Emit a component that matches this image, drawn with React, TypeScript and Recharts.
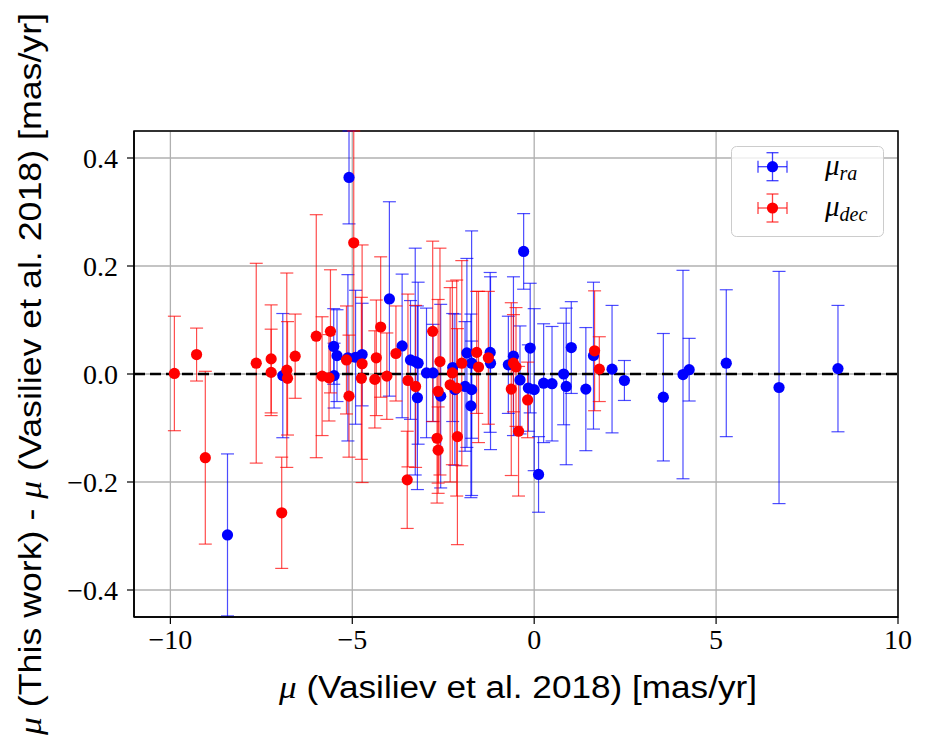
import React from "react";
import {
  ScatterChart,
  Scatter,
  XAxis,
  YAxis,
  CartesianGrid,
  ErrorBar,
  ReferenceLine,
  ReferenceArea,
  Label,
} from "recharts";

// Proper motion of each cluster in Vasiliev et al. 2018 (x) and the
// difference with this work (y), with the y uncertainty — RA component.
const raX = [
  -8.43, -6.91, -5.51, -5.42, -5.09, -5.12, -4.91, -4.73, -5.5, -3.98,
  -3.63, -3.4, -3.27, -3.21, -3.19, -2.96, -2.78, -2.57, -2.24, -2.18,
  -1.85, -1.72, -1.9, -1.72, -1.74, -1.21, -1.2, -0.57, -0.71, -0.39,
  -0.29, -0.16, -0.11, 0.0, 0.12, 0.26, 0.49, 0.81, 0.88, 1.02,
  1.42, 1.63, 2.14, 2.48, 3.55, 4.09, 4.26, 5.28, 6.73, 8.35,
];
const raY = [
  -0.298, -0.003, 0.051, 0.034, 0.364, 0.03, 0.031, 0.036, -0.003, 0.139,
  0.052, 0.026, 0.023, -0.044, 0.02, 0.002, 0.002, -0.041, 0.012, -0.029,
  0.039, 0.02, -0.023, -0.029, -0.059, 0.04, 0.02, 0.033, 0.017, -0.011,
  0.227, -0.026, 0.048, -0.029, -0.186, -0.017, -0.018, 0.0, -0.023, 0.049,
  -0.028, 0.034, 0.009, -0.012, -0.043, -0.001, 0.008, 0.02, -0.025, 0.01,
];
const raErr = [
  0.15, 0.115, 0.07, 0.085, 0.086, 0.154, 0.124, 0.095, 0.06, 0.18,
  0.133, 0.11, 0.21, 0.17, 0.15, 0.12, 0.09, 0.17, 0.1, 0.14,
  0.175, 0.245, 0.12, 0.09, 0.17, 0.148, 0.16, 0.147, 0.09, 0.1,
  0.07, 0.08, 0.12, 0.15, 0.07, 0.11, 0.106, 0.094, 0.145, 0.085,
  0.114, 0.136, 0.118, 0.037, 0.118, 0.193, 0.058, 0.136, 0.215, 0.117,
];

// Same comparison for the Dec component.
const decX = [
  -9.89, -9.28, -9.04, -7.64, -7.23, -7.23, -6.94, -6.8, -6.78, -6.57,
  -5.99, -5.83, -5.6, -5.64, -5.16, -5.09, -4.96, -4.73, -4.75, -4.34,
  -4.38, -4.22, -4.05, -3.8, -3.49, -3.47, -3.26, -2.79, -2.59, -2.64,
  -2.67, -2.64, -2.31, -2.13, -2.11, -1.99, -2.25, -1.58, -1.53, -1.26,
  -0.63, -0.57, -0.5, -0.43, -0.18, 1.66, 1.79,
];
const decY = [
  0.001, 0.036, -0.155, 0.02, 0.028, 0.003, -0.257, 0.007, -0.008, 0.033,
  0.07, -0.004, 0.079, -0.007, 0.026, -0.041, 0.243, 0.019, -0.008, 0.03,
  -0.01, 0.087, -0.004, 0.038, -0.196, -0.012, -0.023, 0.079, 0.023, -0.032,
  -0.119, -0.141, -0.02, -0.026, -0.116, 0.02, 0.002, 0.04, 0.013, 0.03,
  -0.028, 0.02, 0.013, -0.106, -0.048, 0.043, 0.009,
];
const decErr = [
  0.106, 0.049, 0.16, 0.185, 0.1, 0.08, 0.103, 0.18, 0.105, 0.078,
  0.225, 0.11, 0.114, 0.08, 0.1, 0.113, 0.207, 0.22, 0.15, 0.107,
  0.09, 0.13, 0.08, 0.088, 0.09, 0.16, 0.15, 0.167, 0.21, 0.17,
  0.12, 0.08, 0.18, 0.2, 0.2, 0.19, 0.17, 0.113, 0.14, 0.123,
  0.16, 0.09, 0.11, 0.12, 0.07, 0.111, 0.06,
];

const xTicks = [-10, -5, 0, 5, 10];
const yTicks = [-0.4, -0.2, 0.0, 0.2, 0.4];

const raData = raX.map((x, i) => ({ x, y: raY[i], err: raErr[i] }));
const decData = decX.map((x, i) => ({ x, y: decY[i], err: decErr[i] }));

const BLUE = "#0000ff";
const RED = "#ff0000";
const SERIF = "'Liberation Serif', 'DejaVu Serif', serif";
const SANS = "'Liberation Sans', Arial, sans-serif";

const fmtMinus = (v: number, digits: number) => {
  const s = Math.abs(v).toFixed(digits);
  return v < 0 ? "\u2212" + s : s;
};

const dot = (color: string) => (props: any) => {
  const { cx, cy } = props;
  if (cx == null || cy == null) return <g />;
  return <circle cx={cx} cy={cy} r={5.6} fill={color} />;
};

const XTitle = () => (
  <text
    x={510}
    y={690}
    textAnchor="middle"
    fontFamily={SANS}
    fontSize={31}
    textLength={478}
    lengthAdjust="spacingAndGlyphs"
    fill="#000"
  >
    <tspan fontFamily={SERIF} fontStyle="italic">μ</tspan>
    {" (Vasiliev et al. 2018) [mas/yr]"}
  </text>
);

const YTitle = () => (
  <text
    x={33}
    y={366}
    transform="rotate(-90 33 366)"
    textAnchor="middle"
    fontFamily={SANS}
    fontSize={31}
    textLength={722}
    lengthAdjust="spacingAndGlyphs"
    fill="#000"
  >
    <tspan fontFamily={SERIF} fontStyle="italic">μ</tspan>
    {" (This work) - "}
    <tspan fontFamily={SERIF} fontStyle="italic">μ</tspan>
    {" (Vasiliev et al. 2018) [mas/yr]"}
  </text>
);

const LegendMarker = ({ cx, cy, color }: { cx: number; cy: number; color: string }) => (
  <g>
    <g stroke={color} strokeWidth={1.3} strokeOpacity={0.75}>
      <line x1={cx - 14.5} y1={cy} x2={cx + 14.5} y2={cy} />
      <line x1={cx} y1={cy - 14} x2={cx} y2={cy + 14} />
      <line x1={cx - 14.5} y1={cy - 6} x2={cx - 14.5} y2={cy + 6} />
      <line x1={cx + 14.5} y1={cy - 6} x2={cx + 14.5} y2={cy + 6} />
      <line x1={cx - 6} y1={cy - 14} x2={cx + 6} y2={cy - 14} />
      <line x1={cx - 6} y1={cy + 14} x2={cx + 6} y2={cy + 14} />
    </g>
    <circle cx={cx} cy={cy} r={5.6} fill={color} />
  </g>
);

const LegendBox = () => (
  <svg
    width={911}
    height={734}
    style={{ position: "absolute", left: 0, top: 0, pointerEvents: "none" }}
  >
    <rect
      x={723.5}
      y={138.5}
      width={152}
      height={90}
      rx={5}
      fill="#ffffff"
      fillOpacity={0.8}
      stroke="#cccccc"
      strokeWidth={1}
    />
    <LegendMarker cx={764.5} cy={158.7} color={BLUE} />
    <LegendMarker cx={764.5} cy={200} color={RED} />
    <text x={817} y={167} fontFamily={SERIF} fontStyle="italic" fontSize={29} fill="#000">
      μ<tspan fontSize={20} dy={5}>ra</tspan>
    </text>
    <text x={817} y={208} fontFamily={SERIF} fontStyle="italic" fontSize={29} fill="#000">
      μ<tspan fontSize={20} dy={5}>dec</tspan>
    </text>
  </svg>
);

export default function App() {
  return (
    <div style={{ position: "relative", width: 911, height: 734 }}>
      <ScatterChart
        width={911}
        height={734}
        margin={{ top: 123, right: 21, bottom: 65, left: 46 }}
      >
        <CartesianGrid stroke="#b0b0b0" strokeWidth={1.3} />
        <XAxis
          type="number"
          dataKey="x"
          domain={[-11, 10]}
          ticks={xTicks}
          allowDataOverflow
          height={60}
          tickSize={7}
          tickMargin={5}
          axisLine={{ stroke: "#000", strokeWidth: 1.5 }}
          tickLine={{ stroke: "#000", strokeWidth: 1.2 }}
          tick={{ fill: "#000", fontFamily: SERIF, fontSize: 28 }}
          tickFormatter={(v: number) => fmtMinus(v, 0)}
        >
          <Label content={<XTitle />} />
        </XAxis>
        <YAxis
          type="number"
          dataKey="y"
          domain={[-0.45, 0.45]}
          ticks={yTicks}
          allowDataOverflow
          width={80}
          tickSize={7}
          tickMargin={9}
          axisLine={{ stroke: "#000", strokeWidth: 1.5 }}
          tickLine={{ stroke: "#000", strokeWidth: 1.2 }}
          tick={{ fill: "#000", fontFamily: SERIF, fontSize: 28 }}
          tickFormatter={(v: number) => fmtMinus(v, 1)}
        >
          <Label content={<YTitle />} />
        </YAxis>
        <Scatter
          name="ra"
          data={raData}
          fill={BLUE}
          shape={dot(BLUE)}
          isAnimationActive={false}
        >
          <ErrorBar
            dataKey="err"
            direction="y"
            width={6.5}
            stroke={BLUE}
            strokeWidth={1.2}
            strokeOpacity={0.7}
            isAnimationActive={false}
          />
        </Scatter>
        <Scatter
          name="dec"
          data={decData}
          fill={RED}
          shape={dot(RED)}
          isAnimationActive={false}
        >
          <ErrorBar
            dataKey="err"
            direction="y"
            width={6.5}
            stroke={RED}
            strokeWidth={1.2}
            strokeOpacity={0.7}
            isAnimationActive={false}
          />
        </Scatter>
        <ReferenceLine y={0} stroke="#000" strokeWidth={2.6} strokeDasharray="11 5" />
        <ReferenceArea
          x1={-11}
          x2={10}
          y1={-0.45}
          y2={0.45}
          fill="none"
          fillOpacity={0}
          stroke="#000"
          strokeWidth={1.5}
        />
      </ScatterChart>
      <LegendBox />
    </div>
  );
}
